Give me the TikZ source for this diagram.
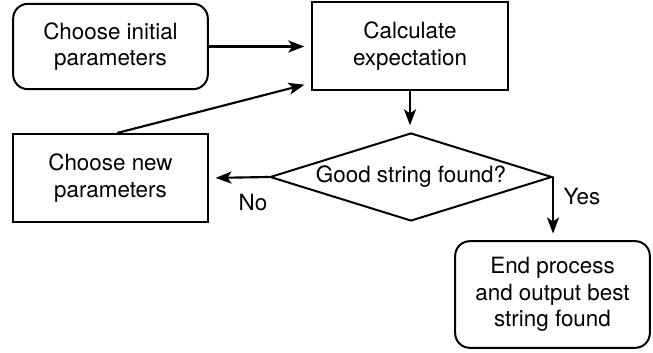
\documentclass[tikz,border=0pt]{standalone}
\usepackage{fontspec}
\setmainfont{TeX Gyre Heros}
\usetikzlibrary{shapes.geometric, positioning, arrows.meta, calc}

\begin{document}
\begin{tikzpicture}[
        x=0.75pt, y=-0.75pt,
        line width=1.5pt,
        % Define styles for the boxes, the decision and the arrows
        every node/.style={font=\fontsize{16.8}{20}\selectfont},
        startbox/.style={draw, rectangle, rounded corners=11pt, minimum width=146pt, minimum height=64pt, align=center},
        procbox/.style={draw, rectangle, minimum width=147pt, minimum height=66pt, align=center},
        decision/.style={draw, diamond, aspect=3.2, inner sep=0pt, minimum width=211.5pt, minimum height=66pt, align=center},
        flow/.style={line width=1.6pt, -{Stealth[length=12pt, width=9pt, inset=3pt]}, shorten >=5pt}
    ]
    \useasboundingbox (0,0) rectangle (653,353);

    % Draw the boxes
    \node[startbox] (init) at (110.5, 46.5) {Choose initial\\parameters};
    \node[procbox] (calc) at (410, 46) {Calculate\\expectation};
    \node[procbox, minimum width=146pt] (newpar) at (110.5, 178) {Choose new\\parameters};
    \node[startbox, minimum height=80pt] (endbox) at (552.5, 294.5) {End process\\and output best\\string found};

    % Draw the decision diamond
    \node[decision] (dia) at (411, 177) {Good string found?};

    % Draw the connecting arrows
    \draw[flow] (init.east) -- (init.east -| calc.west);
    \draw[flow] (calc.south) -- (calc.south |- dia.north);
    \draw[flow] ([xshift=5pt]newpar.north) -- ([yshift=6pt]calc.south west);
    \draw[flow] (dia.west) -- (newpar.east);
    \draw[flow] (dia.east) -- (dia.east |- endbox.north);

    % Branch labels
    \node (nolbl) at (253, 203) {No};
    \node (yeslbl) at (582, 197) {Yes};

\end{tikzpicture}
\end{document}
